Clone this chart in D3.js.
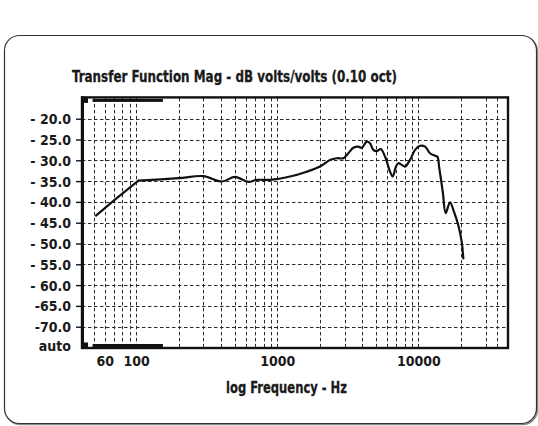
<!DOCTYPE html>
<html>
<head>
<meta charset="utf-8">
<script src="https://cdn.jsdelivr.net/npm/d3@7"></script>
<style>
  html, body { margin: 0; padding: 0; background: #fff; }
  svg { display: block; }
  text { font-family: "Liberation Sans Narrow", "DejaVu Sans Condensed", "Roboto Condensed", sans-serif; font-weight: bold; fill: #1a1a1a; }
</style>
</head>
<body>
<svg id="chart" width="538" height="426"></svg>
<script>
// ---- data ----
const freqHz = [52, 73, 104, 200, 300, 405, 503, 624, 716, 890, 1233, 1600, 2012, 2368, 2642, 2942, 3193, 3464, 3758, 3972, 4310, 4549, 4800, 5074, 5415, 5809, 6302, 6586, 6950, 7216, 7627, 8052, 8735, 9476, 10280, 11156, 12102, 13131, 13634, 14085, 14894, 15637, 16771, 17900, 19203, 20298, 20840];
const magDb = [-43.3, -39.1, -34.9, -34.3, -33.8, -35.1, -34.0, -35.2, -34.7, -34.7, -33.9, -32.8, -31.5, -29.9, -29.5, -29.5, -28.3, -27.0, -26.7, -27.0, -25.5, -25.9, -27.5, -27.8, -27.3, -29.1, -32.7, -33.9, -31.5, -30.7, -31.1, -31.5, -29.9, -27.5, -26.5, -26.7, -28.3, -28.9, -29.1, -31.9, -37.5, -42.7, -40.1, -42.4, -45.6, -49.6, -53.6];
// the low-frequency roll-off (up to the knee) is a straight segment
const kneeHz = 104;

const yTickValues = [-20, -25, -30, -35, -40, -45, -50, -55, -60, -65, -70, -75];
const yTickLabels = ["- 20.0", "- 25.0", "- 30.0", "- 35.0", "- 40.0", "- 45.0", "- 50.0", "- 55.0", "- 60.0", "-65.0", "-70.0", "auto"];
const yGridValues = [-20, -25, -30, -35, -40, -45, -50, -55, -60, -65, -70];

const xTickValues = [60, 100, 1000, 10000];
const xTickLabels = ["60", "100", "1000", "10000"];
const xGridValues = [50, 60, 70, 80, 90, 100, 200, 300, 400, 500, 600, 700, 800, 900, 1000, 2000, 3000, 4000, 5000, 6000, 7000, 8000, 9000, 10000, 20000, 30000, 36000];
const xDomain = [41.4, 43200];
const yDomain = [-75, -15];
const sliderRange = [50, 155];

const titleText = "Transfer Function Mag - dB volts/volts (0.10 oct)";
const xAxisTitle = "log Frequency - Hz";

// ---- layout ----
const svg = d3.select("#chart");
const plot = { left: 82, right: 508, top: 97.9, bottom: 347.5 };

const x = d3.scaleLog().domain(xDomain).range([plot.left, plot.right]);
const y = d3.scaleLinear().domain(yDomain).range([plot.bottom, plot.top]);

// outer rounded frame with slight shadow
svg.append("rect")
  .attr("x", 5.5).attr("y", 36.5).attr("width", 532).attr("height", 388)
  .attr("rx", 15).attr("ry", 15)
  .attr("fill", "none").attr("stroke", "#8a8a8a").attr("stroke-width", 1.5);
svg.append("rect")
  .attr("x", 4.5).attr("y", 35.5).attr("width", 532).attr("height", 388)
  .attr("rx", 15).attr("ry", 15)
  .attr("fill", "#fff").attr("stroke", "#333").attr("stroke-width", 1.2);

// title
svg.append("text")
  .attr("x", 72).attr("y", 81.5)
  .attr("font-size", 16.5)
  .attr("stroke", "#1a1a1a").attr("stroke-width", 0.3)
  .attr("textLength", 325).attr("lengthAdjust", "spacingAndGlyphs")
  .text(titleText);

// grid
const grid = svg.append("g").attr("stroke", "#2a2a2a").attr("stroke-width", 1).attr("stroke-dasharray", "3.5,2.5");
grid.selectAll("line.h").data(yGridValues).join("line")
  .attr("class", "h")
  .attr("x1", plot.left).attr("x2", plot.right)
  .attr("y1", d => Math.round(y(d)) + 0.5).attr("y2", d => Math.round(y(d)) + 0.5);
grid.selectAll("line.v").data(xGridValues).join("line")
  .attr("class", "v")
  .attr("y1", plot.top).attr("y2", plot.bottom)
  .attr("x1", d => Math.round(x(d)) + 0.5).attr("x2", d => Math.round(x(d)) + 0.5);

// y axis ticks/labels
const yAxis = d3.axisLeft(y)
  .tickValues(yTickValues)
  .tickFormat((d, i) => yTickLabels[i])
  .tickSize(6)
  .tickPadding(5);
const gy = svg.append("g").attr("transform", `translate(${plot.left},0)`).call(yAxis);
gy.select(".domain").remove();
gy.selectAll(".tick line").attr("stroke", "#111").attr("stroke-width", 1.4)
  .filter(d => d === -75).remove();
gy.selectAll(".tick text").attr("font-size", 14).attr("fill", "#1a1a1a")
  .attr("font-family", null).attr("dy", "0.35em")
  .filter(d => d === -75).attr("dy", "0.2em");

// x axis labels
const xAxis = d3.axisBottom(x)
  .tickValues(xTickValues)
  .tickFormat((d, i) => xTickLabels[i])
  .tickSize(0)
  .tickPadding(9);
const gx = svg.append("g").attr("transform", `translate(0,${plot.bottom})`).call(xAxis);
gx.select(".domain").remove();
gx.selectAll(".tick text").attr("font-size", 14).attr("fill", "#1a1a1a").attr("font-family", null);

// x axis title
svg.append("text")
  .attr("x", 226).attr("y", 393)
  .attr("font-size", 16.5)
  .attr("stroke", "#1a1a1a").attr("stroke-width", 0.3)
  .attr("textLength", 121).attr("lengthAdjust", "spacingAndGlyphs")
  .text(xAxisTitle);

// plot frame
svg.append("rect")
  .attr("x", plot.left).attr("y", plot.top - 0.5)
  .attr("width", plot.right - plot.left).attr("height", plot.bottom - plot.top + 1)
  .attr("fill", "none").attr("stroke", "#111").attr("stroke-width", 2.4);
svg.append("line")
  .attr("x1", plot.left + 0.5).attr("x2", plot.left + 0.5)
  .attr("y1", plot.top - 1.5).attr("y2", plot.bottom + 1.5)
  .attr("stroke", "#111").attr("stroke-width", 3);

// slider marks top & bottom
[plot.top + 1, plot.bottom - 3.5].forEach(yy => {
  svg.append("rect")
    .attr("x", x(sliderRange[0]) - 1).attr("y", yy)
    .attr("width", x(sliderRange[1]) - x(sliderRange[0]) + 1).attr("height", 3)
    .attr("fill", "#111");
  svg.append("rect")
    .attr("x", plot.left).attr("y", yy - (yy < 200 ? 1 : 1.5))
    .attr("width", 6).attr("height", 5)
    .attr("fill", "#111");
});

// curve: straight roll-off up to the knee, smooth response after it
const pts = freqHz.map((f, i) => [f, magDb[i]]);
const lowPart = pts.filter(d => d[0] <= kneeHz);
const highPart = pts.filter(d => d[0] >= kneeHz);
const curveG = svg.append("g")
  .attr("fill", "none")
  .attr("stroke", "#111")
  .attr("stroke-width", 2.2)
  .attr("stroke-linejoin", "round")
  .attr("stroke-linecap", "round");
curveG.append("path").datum(lowPart)
  .attr("d", d3.line().x(d => x(d[0])).y(d => y(d[1])).curve(d3.curveLinear));
curveG.append("path").datum(highPart)
  .attr("d", d3.line().x(d => x(d[0])).y(d => y(d[1])).curve(d3.curveCatmullRom.alpha(0.5)));
</script>
</body>
</html>
